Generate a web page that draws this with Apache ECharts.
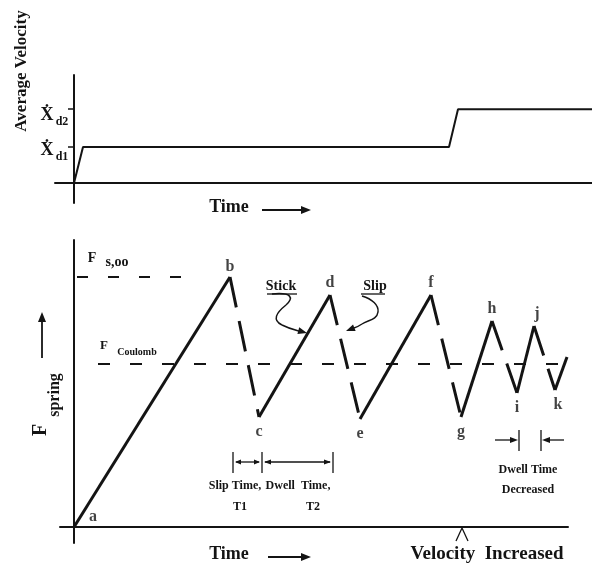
<!DOCTYPE html>
<html>
<head>
<meta charset="utf-8">
<script src="https://cdn.jsdelivr.net/npm/echarts@6/dist/echarts.min.js"></script>
<style>html,body{margin:0;padding:0;background:#fff}#c{width:592px;height:576px}</style>
</head>
<body>
<div id="c"></div>
<script>
// ---- data (schematic units) ----
const velTime = [0, 0.9, 37.5, 38.4, 51.8];
const velValue = [0, 1, 1, 2.05, 2.05];
const velTickValues = [1, 2.05];
const velTickSubs = ['d1', 'd2'];

const sawLabels = ['a', 'b', 'c', 'd', 'e', 'f', 'g', 'h', 'i', 'j', 'k', ''];
const sawTime  = [0, 15.6, 18.5, 25.6, 28.6, 35.7, 38.7, 41.8, 44.3, 46.0, 48.1, 49.3];
const sawForce = [0, 10, 4.4, 9.28, 4.32, 9.28, 4.4, 8.24, 5.36, 8.04, 5.48, 6.8];

const staticLevel = 10;
const staticSpan = [0.3, 11.3];
const coulombLevel = 6.52;
const coulombSpan = [2.4, 51.8];

// ---- styles ----
const INK = '#141414';
const SERIF = '"Liberation Serif", "DejaVu Serif", serif';
const font = (w, s) => w + ' ' + s + 'px ' + SERIF;

const chart = echarts.init(document.getElementById('c'));

const series = [];
series.push({
  type: 'line', xAxisIndex: 0, yAxisIndex: 0, symbol: 'none',
  data: velTime.map((t, i) => [t, velValue[i]]),
  lineStyle: { color: INK, width: 2 }, clip: false, silent: true
});
for (let i = 0; i < sawTime.length - 1; i++) {
  const stick = (i % 2 === 0);
  series.push({
    type: 'line', xAxisIndex: 1, yAxisIndex: 1, symbol: 'none', silent: true,
    data: [[sawTime[i], sawForce[i]], [sawTime[i + 1], sawForce[i + 1]]],
    lineStyle: { color: INK, width: 3, type: stick ? 'solid' : [31, 14], cap: 'butt' }
  });
}
series.push({
  type: 'line', xAxisIndex: 1, yAxisIndex: 1, symbol: 'none', silent: true,
  data: staticSpan.map(t => [t, staticLevel]),
  lineStyle: { color: INK, width: 2, type: [11, 20] }
});
series.push({
  type: 'line', xAxisIndex: 1, yAxisIndex: 1, symbol: 'none', silent: true, clip: false,
  data: coulombSpan.map(t => [t, coulombLevel]),
  lineStyle: { color: INK, width: 2, type: [12, 20] }
});
series.push({
  type: 'scatter', xAxisIndex: 1, yAxisIndex: 1, symbolSize: 0, silent: true,
  data: sawTime.map((t, i) => {
    const lab = { show: !!sawLabels[i], position: i % 2 === 1 ? 'top' : 'bottom', formatter: sawLabels[i],
      distance: i % 2 === 1 ? 4 : 7,
      color: INK, fontFamily: SERIF, fontSize: 16, fontWeight: 'bold' };
    if (i === 0) { lab.position = 'right'; lab.offset = [8, -10]; }
    if (i === 9 || i === 10) lab.offset = [3, 0];
    if (i === 1) lab.distance = 2;
    return { value: [t, sawForce[i]], label: lab };
  })
});

function arrowHead(x1, y1, x2, y2, len, half) {
  const dx = x2 - x1, dy = y2 - y1, L = Math.hypot(dx, dy);
  const ux = dx / L, uy = dy / L;
  const bx = x2 - ux * len, by = y2 - uy * len;
  return { type: 'polygon', silent: true,
    shape: { points: [[x2, y2], [bx - uy * half, by + ux * half], [bx + uy * half, by - ux * half]] },
    style: { fill: INK } };
}
function line(x1, y1, x2, y2, w) {
  return { type: 'line', silent: true, shape: { x1, y1, x2, y2 }, style: { stroke: INK, lineWidth: w || 1.5 } };
}
function curve(x1, y1, cpx1, cpy1, cpx2, cpy2, x2, y2) {
  return { type: 'bezierCurve', silent: true, shape: { x1, y1, cpx1, cpy1, cpx2, cpy2, x2, y2 },
    style: { stroke: INK, lineWidth: 1.5, fill: null } };
}
function text(x, y, str, f, opts) {
  return Object.assign({ type: 'text', silent: true, x, y,
    style: { text: str, font: f, fill: INK, textAlign: 'center', textVerticalAlign: 'middle' } }, opts || {});
}

const g = [];
g.push(text(22, 71, 'Average Velocity', font('bold', 17), { rotation: Math.PI / 2 }));
g.push(text(229, 207, 'Time', font('bold', 18)));
g.push(line(262, 210, 303, 210, 1.8)); g.push(arrowHead(262, 210, 311, 210, 10, 4));
g.push(text(229, 554, 'Time', font('bold', 18)));
g.push(line(268, 557, 303, 557, 1.8)); g.push(arrowHead(268, 557, 311, 557, 10, 4));
velTickSubs.forEach((s, i) => {
  const yy = [150, 115][i];
  g.push(text(47, yy, 'Ẋ', font('bold', 18)));
  g.push(text(62, yy + 7, s, font('bold', 12)));
});
g.push(text(41, 430, 'F', font('bold', 20), { rotation: Math.PI / 2 }));
g.push(text(55, 395, 'spring', font('bold', 16), { rotation: Math.PI / 2 }));
g.push(line(42, 358, 42, 320, 1.8)); g.push(arrowHead(42, 358, 42, 312, 10, 4));
g.push(text(92, 258, 'F', font('bold', 14)));
g.push(text(117, 262, 's,oo', font('bold', 14)));
g.push(text(104, 346, 'F', font('bold', 13)));
g.push(text(137, 352, 'Coulomb', font('bold', 10)));
// Stick
g.push(text(281, 286, 'Stick', font('bold', 14)));
g.push(line(267, 294, 297, 294, 1.3));
g.push(curve(272, 294, 292, 292, 294, 298, 286, 305));
g.push(curve(286, 305, 276, 313, 272, 320, 282, 325));
g.push(curve(282, 325, 290, 329, 295, 330, 299, 331));
g.push(arrowHead(296, 330, 307, 333, 9, 3.5));
// Slip
g.push(text(375, 286, 'Slip', font('bold', 14)));
g.push(line(361, 294, 385, 294, 1.3));
g.push(curve(362, 296, 372, 299, 379, 305, 378, 312));
g.push(curve(378, 312, 377, 320, 368, 320, 362, 324));
g.push(curve(362, 324, 359, 326, 357, 327, 354, 328));
g.push(arrowHead(356, 327, 346, 331, 9, 3.5));
// intervals
[233, 262, 333].forEach(x => g.push(line(x, 452, x, 473, 1.3)));
g.push(line(236, 462, 259, 462, 1.3));
g.push(arrowHead(250, 462, 235, 462, 6, 2.5)); g.push(arrowHead(245, 462, 260, 462, 6, 2.5));
g.push(line(265, 462, 330, 462, 1.3));
g.push(arrowHead(280, 462, 264, 462, 7, 2.5)); g.push(arrowHead(315, 462, 331, 462, 7, 2.5));
g.push(text(235, 486, 'Slip Time,', font('bold', 12)));
g.push(text(298, 486, 'Dwell  Time,', font('bold', 12)));
g.push(text(240, 507, 'T1', font('bold', 12)));
g.push(text(313, 507, 'T2', font('bold', 12)));
g.push(line(519, 430, 519, 451, 1.3)); g.push(line(541, 430, 541, 451, 1.3));
g.push(line(495, 440, 510, 440, 1.3)); g.push(arrowHead(495, 440, 518, 440, 8, 3));
g.push(line(550, 440, 564, 440, 1.3)); g.push(arrowHead(564, 440, 542, 440, 8, 3));
g.push(text(528, 470, 'Dwell Time', font('bold', 12)));
g.push(text(528, 490, 'Decreased', font('bold', 12)));
g.push({ type: 'polyline', silent: true, shape: { points: [[456, 541], [462, 528], [468, 541]] },
  style: { stroke: INK, lineWidth: 1.3, fill: null } });
g.push(text(487, 554, 'Velocity  Increased', font('bold', 19)));

const axisCommon = {
  type: 'value', splitLine: { show: false }, axisTick: { show: false }, axisLabel: { show: false },
  axisLine: { show: true, onZero: true, lineStyle: { color: INK, width: 2 } }
};

chart.setOption({
  animation: false,
  backgroundColor: '#fff',
  grid: [
    { left: 55, right: 0, top: 75, bottom: 373 },
    { left: 60, right: 24, top: 240, bottom: 33 }
  ],
  xAxis: [
    Object.assign({}, axisCommon, { gridIndex: 0, min: -1.9, max: 51.8 }),
    Object.assign({}, axisCommon, { gridIndex: 1, min: -1.4, max: 49.4 })
  ],
  yAxis: [
    Object.assign({}, axisCommon, { gridIndex: 0, min: -0.556, max: 3.0,
      axisTick: { show: true, customValues: velTickValues, length: 6, lineStyle: { color: INK, width: 1.5 } } }),
    Object.assign({}, axisCommon, { gridIndex: 1, min: -0.64, max: 11.48 })
  ],
  series: series,
  graphic: { elements: g }
});
</script>
</body>
</html>
